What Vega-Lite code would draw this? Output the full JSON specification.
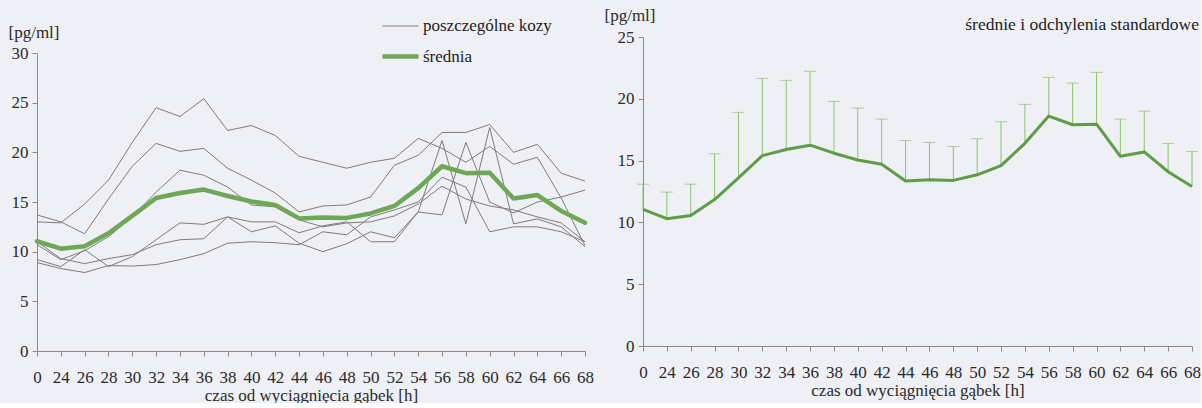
{
  "$schema": "https://vega.github.io/schema/vega-lite/v6.json",
  "background": "#eff0f6",
  "padding": {"left": 8, "top": 6, "right": 0, "bottom": 0},
  "config": {
    "font": "Liberation Serif",
    "view": {"stroke": null},
    "concat": {"spacing": 10},
    "style": {
      "guide-label": {"font": "Liberation Serif"},
      "guide-title": {"font": "Liberation Serif"}
    },
    "axis": {
      "grid": false,
      "domainColor": "#8a8a8a",
      "tickColor": "#8a8a8a",
      "tickSize": 5,
      "labelFont": "Liberation Serif",
      "titleFont": "Liberation Serif",
      "labelFontSize": 17,
      "titleFontSize": 17,
      "titleFontWeight": "normal",
      "labelColor": "#2a2a2a",
      "titleColor": "#2a2a2a"
    },
    "legend": {"labelFont": "Liberation Serif"}
  },
  "datasets": {
    "kozy": [
      {"godz": 0, "koza": "A", "seria": "poszczególne kozy", "stezenie": 13.0},
      {"godz": 24, "koza": "A", "seria": "poszczególne kozy", "stezenie": 12.9},
      {"godz": 26, "koza": "A", "seria": "poszczególne kozy", "stezenie": 14.8},
      {"godz": 28, "koza": "A", "seria": "poszczególne kozy", "stezenie": 17.2},
      {"godz": 30, "koza": "A", "seria": "poszczególne kozy", "stezenie": 21.0},
      {"godz": 32, "koza": "A", "seria": "poszczególne kozy", "stezenie": 24.5},
      {"godz": 34, "koza": "A", "seria": "poszczególne kozy", "stezenie": 23.6},
      {"godz": 36, "koza": "A", "seria": "poszczególne kozy", "stezenie": 25.4},
      {"godz": 38, "koza": "A", "seria": "poszczególne kozy", "stezenie": 22.2},
      {"godz": 40, "koza": "A", "seria": "poszczególne kozy", "stezenie": 22.7},
      {"godz": 42, "koza": "A", "seria": "poszczególne kozy", "stezenie": 21.7},
      {"godz": 44, "koza": "A", "seria": "poszczególne kozy", "stezenie": 19.6},
      {"godz": 46, "koza": "A", "seria": "poszczególne kozy", "stezenie": 19.0},
      {"godz": 48, "koza": "A", "seria": "poszczególne kozy", "stezenie": 18.4},
      {"godz": 50, "koza": "A", "seria": "poszczególne kozy", "stezenie": 19.0},
      {"godz": 52, "koza": "A", "seria": "poszczególne kozy", "stezenie": 19.4},
      {"godz": 54, "koza": "A", "seria": "poszczególne kozy", "stezenie": 21.4},
      {"godz": 56, "koza": "A", "seria": "poszczególne kozy", "stezenie": 20.4},
      {"godz": 58, "koza": "A", "seria": "poszczególne kozy", "stezenie": 19.0},
      {"godz": 60, "koza": "A", "seria": "poszczególne kozy", "stezenie": 20.6},
      {"godz": 62, "koza": "A", "seria": "poszczególne kozy", "stezenie": 18.8},
      {"godz": 64, "koza": "A", "seria": "poszczególne kozy", "stezenie": 19.5},
      {"godz": 66, "koza": "A", "seria": "poszczególne kozy", "stezenie": 15.4},
      {"godz": 68, "koza": "A", "seria": "poszczególne kozy", "stezenie": 10.6},
      {"godz": 0, "koza": "B", "seria": "poszczególne kozy", "stezenie": 13.7},
      {"godz": 24, "koza": "B", "seria": "poszczególne kozy", "stezenie": 13.0},
      {"godz": 26, "koza": "B", "seria": "poszczególne kozy", "stezenie": 11.8},
      {"godz": 28, "koza": "B", "seria": "poszczególne kozy", "stezenie": 15.3},
      {"godz": 30, "koza": "B", "seria": "poszczególne kozy", "stezenie": 18.6},
      {"godz": 32, "koza": "B", "seria": "poszczególne kozy", "stezenie": 20.9},
      {"godz": 34, "koza": "B", "seria": "poszczególne kozy", "stezenie": 20.1},
      {"godz": 36, "koza": "B", "seria": "poszczególne kozy", "stezenie": 20.4},
      {"godz": 38, "koza": "B", "seria": "poszczególne kozy", "stezenie": 18.4},
      {"godz": 40, "koza": "B", "seria": "poszczególne kozy", "stezenie": 17.2},
      {"godz": 42, "koza": "B", "seria": "poszczególne kozy", "stezenie": 15.9},
      {"godz": 44, "koza": "B", "seria": "poszczególne kozy", "stezenie": 14.0},
      {"godz": 46, "koza": "B", "seria": "poszczególne kozy", "stezenie": 14.6},
      {"godz": 48, "koza": "B", "seria": "poszczególne kozy", "stezenie": 14.7},
      {"godz": 50, "koza": "B", "seria": "poszczególne kozy", "stezenie": 15.5},
      {"godz": 52, "koza": "B", "seria": "poszczególne kozy", "stezenie": 18.7},
      {"godz": 54, "koza": "B", "seria": "poszczególne kozy", "stezenie": 19.7},
      {"godz": 56, "koza": "B", "seria": "poszczególne kozy", "stezenie": 22.0},
      {"godz": 58, "koza": "B", "seria": "poszczególne kozy", "stezenie": 22.0},
      {"godz": 60, "koza": "B", "seria": "poszczególne kozy", "stezenie": 22.8},
      {"godz": 62, "koza": "B", "seria": "poszczególne kozy", "stezenie": 20.0},
      {"godz": 64, "koza": "B", "seria": "poszczególne kozy", "stezenie": 20.8},
      {"godz": 66, "koza": "B", "seria": "poszczególne kozy", "stezenie": 17.9},
      {"godz": 68, "koza": "B", "seria": "poszczególne kozy", "stezenie": 17.1},
      {"godz": 0, "koza": "C", "seria": "poszczególne kozy", "stezenie": 10.7},
      {"godz": 24, "koza": "C", "seria": "poszczególne kozy", "stezenie": 9.2},
      {"godz": 26, "koza": "C", "seria": "poszczególne kozy", "stezenie": 10.1},
      {"godz": 28, "koza": "C", "seria": "poszczególne kozy", "stezenie": 11.5},
      {"godz": 30, "koza": "C", "seria": "poszczególne kozy", "stezenie": 13.5},
      {"godz": 32, "koza": "C", "seria": "poszczególne kozy", "stezenie": 16.0},
      {"godz": 34, "koza": "C", "seria": "poszczególne kozy", "stezenie": 18.2},
      {"godz": 36, "koza": "C", "seria": "poszczególne kozy", "stezenie": 17.7},
      {"godz": 38, "koza": "C", "seria": "poszczególne kozy", "stezenie": 16.5},
      {"godz": 40, "koza": "C", "seria": "poszczególne kozy", "stezenie": 14.7},
      {"godz": 42, "koza": "C", "seria": "poszczególne kozy", "stezenie": 14.5},
      {"godz": 44, "koza": "C", "seria": "poszczególne kozy", "stezenie": 13.2},
      {"godz": 46, "koza": "C", "seria": "poszczególne kozy", "stezenie": 12.5},
      {"godz": 48, "koza": "C", "seria": "poszczególne kozy", "stezenie": 12.9},
      {"godz": 50, "koza": "C", "seria": "poszczególne kozy", "stezenie": 13.0},
      {"godz": 52, "koza": "C", "seria": "poszczególne kozy", "stezenie": 13.6},
      {"godz": 54, "koza": "C", "seria": "poszczególne kozy", "stezenie": 14.8},
      {"godz": 56, "koza": "C", "seria": "poszczególne kozy", "stezenie": 16.6},
      {"godz": 58, "koza": "C", "seria": "poszczególne kozy", "stezenie": 15.3},
      {"godz": 60, "koza": "C", "seria": "poszczególne kozy", "stezenie": 14.6},
      {"godz": 62, "koza": "C", "seria": "poszczególne kozy", "stezenie": 14.2},
      {"godz": 64, "koza": "C", "seria": "poszczególne kozy", "stezenie": 13.5},
      {"godz": 66, "koza": "C", "seria": "poszczególne kozy", "stezenie": 12.9},
      {"godz": 68, "koza": "C", "seria": "poszczególne kozy", "stezenie": 11.0},
      {"godz": 0, "koza": "D", "seria": "poszczególne kozy", "stezenie": 9.2},
      {"godz": 24, "koza": "D", "seria": "poszczególne kozy", "stezenie": 8.5},
      {"godz": 26, "koza": "D", "seria": "poszczególne kozy", "stezenie": 10.2},
      {"godz": 28, "koza": "D", "seria": "poszczególne kozy", "stezenie": 8.5},
      {"godz": 30, "koza": "D", "seria": "poszczególne kozy", "stezenie": 9.5},
      {"godz": 32, "koza": "D", "seria": "poszczególne kozy", "stezenie": 11.2},
      {"godz": 34, "koza": "D", "seria": "poszczególne kozy", "stezenie": 12.9},
      {"godz": 36, "koza": "D", "seria": "poszczególne kozy", "stezenie": 12.75},
      {"godz": 38, "koza": "D", "seria": "poszczególne kozy", "stezenie": 13.5},
      {"godz": 40, "koza": "D", "seria": "poszczególne kozy", "stezenie": 13.0},
      {"godz": 42, "koza": "D", "seria": "poszczególne kozy", "stezenie": 13.0},
      {"godz": 44, "koza": "D", "seria": "poszczególne kozy", "stezenie": 11.9},
      {"godz": 46, "koza": "D", "seria": "poszczególne kozy", "stezenie": 12.6},
      {"godz": 48, "koza": "D", "seria": "poszczególne kozy", "stezenie": 13.0},
      {"godz": 50, "koza": "D", "seria": "poszczególne kozy", "stezenie": 11.0},
      {"godz": 52, "koza": "D", "seria": "poszczególne kozy", "stezenie": 11.0},
      {"godz": 54, "koza": "D", "seria": "poszczególne kozy", "stezenie": 14.0},
      {"godz": 56, "koza": "D", "seria": "poszczególne kozy", "stezenie": 21.2},
      {"godz": 58, "koza": "D", "seria": "poszczególne kozy", "stezenie": 12.8},
      {"godz": 60, "koza": "D", "seria": "poszczególne kozy", "stezenie": 22.5},
      {"godz": 62, "koza": "D", "seria": "poszczególne kozy", "stezenie": 12.8},
      {"godz": 64, "koza": "D", "seria": "poszczególne kozy", "stezenie": 13.3},
      {"godz": 66, "koza": "D", "seria": "poszczególne kozy", "stezenie": 12.5},
      {"godz": 68, "koza": "D", "seria": "poszczególne kozy", "stezenie": 10.5},
      {"godz": 0, "koza": "E", "seria": "poszczególne kozy", "stezenie": 11.0},
      {"godz": 24, "koza": "E", "seria": "poszczególne kozy", "stezenie": 9.3},
      {"godz": 26, "koza": "E", "seria": "poszczególne kozy", "stezenie": 8.8},
      {"godz": 28, "koza": "E", "seria": "poszczególne kozy", "stezenie": 9.3},
      {"godz": 30, "koza": "E", "seria": "poszczególne kozy", "stezenie": 9.7},
      {"godz": 32, "koza": "E", "seria": "poszczególne kozy", "stezenie": 10.7},
      {"godz": 34, "koza": "E", "seria": "poszczególne kozy", "stezenie": 11.2},
      {"godz": 36, "koza": "E", "seria": "poszczególne kozy", "stezenie": 11.3},
      {"godz": 38, "koza": "E", "seria": "poszczególne kozy", "stezenie": 13.5},
      {"godz": 40, "koza": "E", "seria": "poszczególne kozy", "stezenie": 12.0},
      {"godz": 42, "koza": "E", "seria": "poszczególne kozy", "stezenie": 12.6},
      {"godz": 44, "koza": "E", "seria": "poszczególne kozy", "stezenie": 10.85},
      {"godz": 46, "koza": "E", "seria": "poszczególne kozy", "stezenie": 10.0},
      {"godz": 48, "koza": "E", "seria": "poszczególne kozy", "stezenie": 10.8},
      {"godz": 50, "koza": "E", "seria": "poszczególne kozy", "stezenie": 12.0},
      {"godz": 52, "koza": "E", "seria": "poszczególne kozy", "stezenie": 11.4},
      {"godz": 54, "koza": "E", "seria": "poszczególne kozy", "stezenie": 14.0},
      {"godz": 56, "koza": "E", "seria": "poszczególne kozy", "stezenie": 13.7},
      {"godz": 58, "koza": "E", "seria": "poszczególne kozy", "stezenie": 21.0},
      {"godz": 60, "koza": "E", "seria": "poszczególne kozy", "stezenie": 15.0},
      {"godz": 62, "koza": "E", "seria": "poszczególne kozy", "stezenie": 13.9},
      {"godz": 64, "koza": "E", "seria": "poszczególne kozy", "stezenie": 15.0},
      {"godz": 66, "koza": "E", "seria": "poszczególne kozy", "stezenie": 15.5},
      {"godz": 68, "koza": "E", "seria": "poszczególne kozy", "stezenie": 16.2},
      {"godz": 0, "koza": "F", "seria": "poszczególne kozy", "stezenie": 8.9},
      {"godz": 24, "koza": "F", "seria": "poszczególne kozy", "stezenie": 8.3},
      {"godz": 26, "koza": "F", "seria": "poszczególne kozy", "stezenie": 7.9},
      {"godz": 28, "koza": "F", "seria": "poszczególne kozy", "stezenie": 8.6},
      {"godz": 30, "koza": "F", "seria": "poszczególne kozy", "stezenie": 8.55},
      {"godz": 32, "koza": "F", "seria": "poszczególne kozy", "stezenie": 8.7},
      {"godz": 34, "koza": "F", "seria": "poszczególne kozy", "stezenie": 9.2},
      {"godz": 36, "koza": "F", "seria": "poszczególne kozy", "stezenie": 9.8},
      {"godz": 38, "koza": "F", "seria": "poszczególne kozy", "stezenie": 10.85},
      {"godz": 40, "koza": "F", "seria": "poszczególne kozy", "stezenie": 11.0},
      {"godz": 42, "koza": "F", "seria": "poszczególne kozy", "stezenie": 10.9},
      {"godz": 44, "koza": "F", "seria": "poszczególne kozy", "stezenie": 10.7},
      {"godz": 46, "koza": "F", "seria": "poszczególne kozy", "stezenie": 12.0},
      {"godz": 48, "koza": "F", "seria": "poszczególne kozy", "stezenie": 11.7},
      {"godz": 50, "koza": "F", "seria": "poszczególne kozy", "stezenie": 13.5},
      {"godz": 52, "koza": "F", "seria": "poszczególne kozy", "stezenie": 14.2},
      {"godz": 54, "koza": "F", "seria": "poszczególne kozy", "stezenie": 15.0},
      {"godz": 56, "koza": "F", "seria": "poszczególne kozy", "stezenie": 17.5},
      {"godz": 58, "koza": "F", "seria": "poszczególne kozy", "stezenie": 16.5},
      {"godz": 60, "koza": "F", "seria": "poszczególne kozy", "stezenie": 12.0},
      {"godz": 62, "koza": "F", "seria": "poszczególne kozy", "stezenie": 12.5},
      {"godz": 64, "koza": "F", "seria": "poszczególne kozy", "stezenie": 12.5},
      {"godz": 66, "koza": "F", "seria": "poszczególne kozy", "stezenie": 12.0},
      {"godz": 68, "koza": "F", "seria": "poszczególne kozy", "stezenie": 11.0}
    ],
    "srednie": [
      {"godz": 0, "srednia": 11.05, "srednia_plus_sd": 13.09},
      {"godz": 24, "srednia": 10.3, "srednia_plus_sd": 12.45},
      {"godz": 26, "srednia": 10.55, "srednia_plus_sd": 13.09},
      {"godz": 28, "srednia": 11.85, "srednia_plus_sd": 15.55},
      {"godz": 30, "srednia": 13.6, "srednia_plus_sd": 18.9},
      {"godz": 32, "srednia": 15.4, "srednia_plus_sd": 21.65},
      {"godz": 34, "srednia": 15.9, "srednia_plus_sd": 21.49},
      {"godz": 36, "srednia": 16.25, "srednia_plus_sd": 22.22},
      {"godz": 38, "srednia": 15.6, "srednia_plus_sd": 19.79},
      {"godz": 40, "srednia": 15.05, "srednia_plus_sd": 19.25},
      {"godz": 42, "srednia": 14.7, "srednia_plus_sd": 18.36},
      {"godz": 44, "srednia": 13.35, "srednia_plus_sd": 16.63},
      {"godz": 46, "srednia": 13.45, "srednia_plus_sd": 16.47},
      {"godz": 48, "srednia": 13.4, "srednia_plus_sd": 16.14},
      {"godz": 50, "srednia": 13.85, "srednia_plus_sd": 16.77},
      {"godz": 52, "srednia": 14.6, "srednia_plus_sd": 18.14},
      {"godz": 54, "srednia": 16.4, "srednia_plus_sd": 19.55},
      {"godz": 56, "srednia": 18.6, "srednia_plus_sd": 21.73},
      {"godz": 58, "srednia": 17.9, "srednia_plus_sd": 21.27},
      {"godz": 60, "srednia": 17.95, "srednia_plus_sd": 22.14},
      {"godz": 62, "srednia": 15.35, "srednia_plus_sd": 18.36},
      {"godz": 64, "srednia": 15.7, "srednia_plus_sd": 19.0},
      {"godz": 66, "srednia": 14.1, "srednia_plus_sd": 16.39},
      {"godz": 68, "srednia": 12.9, "srednia_plus_sd": 15.74}
    ]
  },
  "hconcat": [
    {
      "width": 548,
      "height": 314,
      "layer": [
        {
          "data": {"name": "kozy"},
          "mark": {"type": "line", "interpolate": "linear"},
          "encoding": {
            "x": {
              "field": "godz",
              "type": "ordinal",
              "scale": {"type": "point", "padding": 0},
              "axis": {
                "labelAngle": 0,
                "labelPadding": 13,
                "labelFont": "Liberation Serif",
                "titleFont": "Liberation Serif",
                "title": "czas od wyciągnięcia gąbek [h]",
                "titlePadding": 2
              }
            },
            "y": {
              "field": "stezenie",
              "type": "quantitative",
              "scale": {"domain": [0, 30], "range": [314, 16], "nice": false, "zero": true},
              "axis": {
                "values": [0, 5, 10, 15, 20, 25, 30],
                "labelPadding": 4,
                "labelFont": "Liberation Serif",
                "titleFont": "Liberation Serif",
                "title": "[pg/ml]",
                "titleAngle": 0,
                "titleAlign": "left",
                "titleBaseline": "middle",
                "titleX": -29,
                "titleY": -5
              }
            },
            "detail": {"field": "koza"},
            "color": {
              "field": "seria",
              "type": "ordinal",
              "scale": {"domain": ["poszczególne kozy", "średnia"], "range": ["#7c7c7c", "#6ea856"]},
              "legend": {
                "title": null,
                "orient": "none",
                "legendX": 343,
                "legendY": -30,
                "symbolType": "stroke",
                "symbolSize": 1300,
                "labelFont": "Liberation Serif",
                "labelFontSize": 17,
                "labelColor": "#222222",
                "labelOffset": 2,
                "rowPadding": 2
              }
            },
            "strokeWidth": {
              "field": "seria",
              "type": "ordinal",
              "scale": {"domain": ["poszczególne kozy", "średnia"], "range": [1, 4.5]},
              "legend": {
                "title": null,
                "orient": "none",
                "legendX": 343,
                "legendY": -30,
                "symbolType": "stroke",
                "symbolSize": 1300,
                "labelFont": "Liberation Serif",
                "labelFontSize": 17,
                "labelColor": "#222222",
                "labelOffset": 2,
                "rowPadding": 2
              }
            }
          }
        },
        {
          "data": {"name": "srednie"},
          "mark": {"type": "line", "interpolate": "linear", "strokeCap": "round", "strokeJoin": "round"},
          "encoding": {
            "x": {"field": "godz", "type": "ordinal"},
            "y": {"field": "srednia", "type": "quantitative"},
            "color": {"datum": "średnia", "type": "ordinal"},
            "strokeWidth": {"datum": "średnia", "type": "ordinal"}
          }
        }
      ]
    },
    {
      "width": 549,
      "height": 309,
      "layer": [
        {
          "data": {"name": "srednie"},
          "mark": {"type": "rule", "color": "#8cc26c", "strokeWidth": 1},
          "encoding": {
            "x": {
              "field": "godz",
              "type": "ordinal",
              "scale": {"type": "point", "padding": 0},
              "axis": {
                "labelAngle": 0,
                "labelPadding": 13,
                "labelFont": "Liberation Serif",
                "titleFont": "Liberation Serif",
                "title": "czas od wyciągnięcia gąbek [h]",
                "titlePadding": 2
              }
            },
            "y": {
              "field": "srednia",
              "type": "quantitative",
              "scale": {"domain": [0, 25], "nice": false},
              "axis": {
                "values": [0, 5, 10, 15, 20, 25],
                "labelPadding": 4,
                "labelFont": "Liberation Serif",
                "titleFont": "Liberation Serif",
                "title": "[pg/ml]",
                "titleAngle": 0,
                "titleAlign": "left",
                "titleBaseline": "middle",
                "titleX": -39,
                "titleY": -22
              }
            },
            "y2": {"field": "srednia_plus_sd"}
          }
        },
        {
          "data": {"name": "srednie"},
          "mark": {"type": "tick", "color": "#8cc26c", "thickness": 1, "size": 12, "orient": "horizontal"},
          "encoding": {
            "x": {"field": "godz", "type": "ordinal"},
            "y": {"field": "srednia_plus_sd", "type": "quantitative"}
          }
        },
        {
          "data": {"name": "srednie"},
          "mark": {"type": "line", "color": "#5f9c47", "strokeWidth": 3, "strokeJoin": "round"},
          "encoding": {
            "x": {"field": "godz", "type": "ordinal"},
            "y": {"field": "srednia", "type": "quantitative"}
          }
        },
        {
          "data": {"values": [{"opis": "średnie i odchylenia standardowe"}]},
          "mark": {"type": "text", "align": "right", "baseline": "middle", "dx": 7, "dy": -12, "fontSize": 17.5, "font": "Liberation Serif", "color": "#222222"},
          "encoding": {
            "x": {"datum": 68, "type": "ordinal"},
            "y": {"datum": 25, "type": "quantitative"},
            "text": {"field": "opis"}
          }
        }
      ]
    }
  ]
}
